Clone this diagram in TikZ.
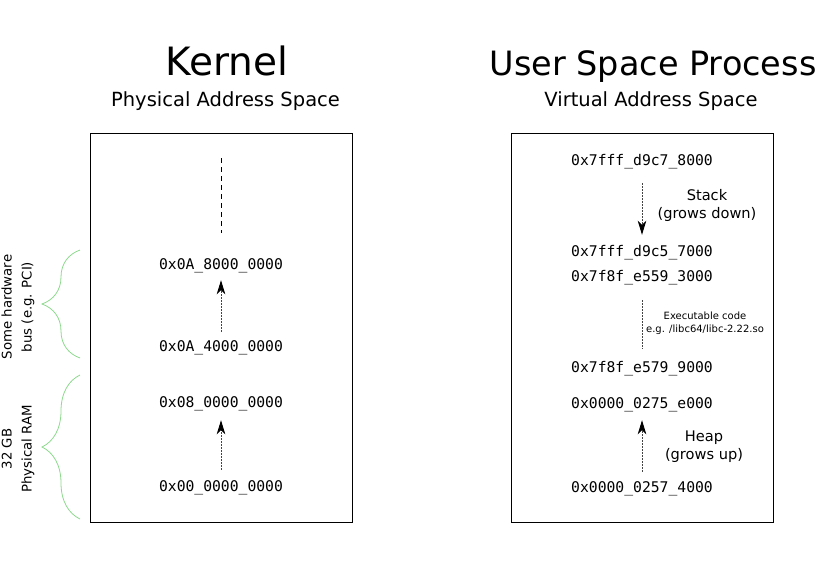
\documentclass[tikz,border=0pt]{standalone}
\usepackage{fontspec}
\setmainfont{DejaVu Sans}
\newfontfamily\monofont{DejaVu Sans Mono}
\usetikzlibrary{arrows.meta,decorations.pathreplacing}
\definecolor{bracegreen}{HTML}{8CD88C}
\definecolor{shaftgray}{HTML}{444444}
\tikzset{
  addr/.style={font=\monofont\fontsize{14.7}{17}\selectfont, anchor=base, inner sep=0pt, text height=11pt, text depth=3pt},
  memblock/.style={draw=black, line width=1pt},
  growarrow/.style={draw=shaftgray, line width=0.9pt, dash pattern=on 2pt off 1pt, -{Stealth[length=14pt,width=8.5pt,inset=4pt,color=black]}},
  dotline/.style={draw=shaftgray, line width=0.9pt, dash pattern=on 2pt off 1pt},
  contline/.style={draw=black, line width=1pt, dash pattern=on 5pt off 4pt},
  lbl/.style={font=\fontsize{14.6}{18}\selectfont, align=center, inner sep=0pt},
  smalllbl/.style={font=\fontsize{10}{13}\selectfont, align=center, inner sep=0pt},
  bracelbl/.style={font=\fontsize{13.3}{20}\selectfont, align=center, inner sep=0pt, rotate=90},
  bigtitle/.style={font=\fontsize{39}{44}\selectfont, anchor=base, inner sep=0pt},
  usertitle/.style={font=\fontsize{33.5}{40}\selectfont, anchor=base, inner sep=0pt},
  subtitle/.style={font=\fontsize{19.5}{23}\selectfont, anchor=base, inner sep=0pt},
  greenbrace/.style={draw=bracegreen, line width=0.8pt, decorate, decoration={brace, amplitude=38pt}}
}
\begin{document}
\begin{tikzpicture}[x=1pt,y=-1pt]
\useasboundingbox (0,0) rectangle (826,573);
% titles
\node[bigtitle] (tk) at (227,75) {Kernel};
\node[subtitle] (tks) at (225.5,106) {Physical Address Space};
\node[usertitle] (tu) at (653,75) {User Space Process};
\node[subtitle] (tus) at (651,106) {Virtual Address Space};
% boxes
\node[memblock, minimum width=262pt, minimum height=389pt, inner sep=0pt] (kbox) at (221,327.5) {};
\node[memblock, minimum width=262pt, minimum height=389pt, inner sep=0pt] (ubox) at (642,327.5) {};
% kernel addresses
\node[addr] (k8) at (221,269) {0x0A\_8000\_0000};
\node[addr] (k4) at (221,351) {0x0A\_4000\_0000};
\node[addr] (k08) at (221,407.5) {0x08\_0000\_0000};
\node[addr] (k0) at (221,491.5) {0x00\_0000\_0000};
\coordinate (ktop) at (221,158);
\draw[contline, shorten >=25pt] (ktop) -- (k8.north);
\draw[growarrow, shorten <=8pt, shorten >=8pt] (k4.north) -- (k8.south);
\draw[growarrow, shorten <=10.5pt, shorten >=9.5pt] (k0.north) -- (k08.south);
% user addresses
\node[addr] (s1) at (642,165) {0x7fff\_d9c7\_8000};
\node[addr] (s2) at (642,256) {0x7fff\_d9c5\_7000};
\node[addr] (s3) at (642,281) {0x7f8f\_e559\_3000};
\node[addr] (s4) at (642,372.5) {0x7f8f\_e579\_9000};
\node[addr] (h2) at (642,408.5) {0x0000\_0275\_e000};
\node[addr] (h1) at (642,492.5) {0x0000\_0257\_4000};
\draw[growarrow, shorten <=15pt, shorten >=10pt] (s1.south) -- (s2.north);
\draw[dotline, shorten <=16pt, shorten >=12.5pt] (s3.south) -- (s4.north);
\draw[growarrow, shorten <=9.5pt, shorten >=8.5pt] (h1.north) -- (h2.south);
\node[lbl] (stacklbl) at (707,205.5) {Stack\\(grows down)};
\node[smalllbl] (execlbl) at (705,323.5) {Executable code\\e.g. /libc64/libc-2.22.so};
\node[lbl] (heaplbl) at (704,446.5) {Heap\\(grows up)};
% braces
\coordinate (b1s) at (80,358);
\coordinate (b1e) at (80,250);
\coordinate (b2s) at (80,519);
\coordinate (b2e) at (80,375);
\draw[greenbrace] (b1s) -- (b1e);
\draw[greenbrace] (b2s) -- (b2e);
\node[bracelbl] (buslbl) at (18,307) {Some hardware\\bus (e.g. PCI)};
\node[bracelbl] (ramlbl) at (18,449) {32 GB\\Physical RAM};
\end{tikzpicture}
\end{document}
